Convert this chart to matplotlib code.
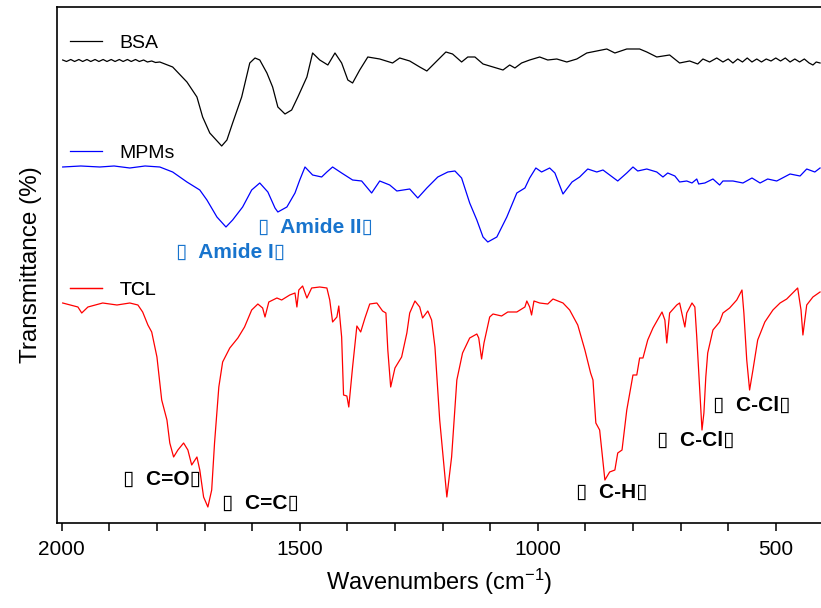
import matplotlib
matplotlib.use("Agg")
import matplotlib.pyplot as plt
from matplotlib.lines import Line2D

plt.rcParams['font.family'] = ['Liberation Sans', 'DejaVu Sans']
plt.rcParams['mathtext.default'] = 'regular'

# FTIR spectra (wavenumber in cm-1, stacked transmittance in a.u.)
bsa_wn = [1998, 1990, 1981, 1973, 1964, 1956, 1947, 1939, 1930, 1922, 1913, 1905, 1896,
          1888, 1879, 1871, 1862, 1854, 1845, 1837, 1828, 1820, 1811, 1803, 1794, 1767, 1737,
          1716, 1704, 1689, 1664, 1653, 1641, 1622, 1605, 1594, 1584, 1569, 1557, 1546,
          1531, 1517, 1504, 1485, 1473, 1458, 1441, 1426, 1412, 1399, 1389, 1374, 1357,
          1332, 1305, 1290, 1269, 1248, 1233, 1212, 1193, 1179, 1160, 1147, 1132, 1115,
          1094, 1073, 1059, 1048, 1034, 1017, 996, 979, 960, 939, 918, 897, 876, 855, 838,
          813, 786, 771, 750, 723, 702, 681, 664, 653, 639, 624, 611, 600, 590, 580, 570,
          560, 550, 540, 530, 520, 510, 500, 490, 480, 470, 460, 450, 440, 430, 422, 415, 407]
bsa_t = [463, 461.5, 463.5, 461.5, 463.5, 461.5, 463.5, 461.5, 463.5, 461.5, 463.5, 461.5, 463.5,
         461.5, 463.5, 461.5, 463.5, 461.5, 463.5, 461.5, 463, 461, 462, 460.5, 461, 456, 441,
         426, 406, 390, 377, 383, 400, 426, 460, 465, 463, 450, 436, 416,
         409, 413, 426, 446, 470, 463, 458, 470, 460, 443, 440, 453, 466,
         464, 460, 465, 462, 456, 452, 462, 471, 469, 461, 466, 466, 459,
         456, 453, 458, 455, 460, 463, 466, 463, 464, 461, 464, 470, 472, 474, 470,
         474, 474, 471, 466, 468, 460, 462, 459, 464, 461, 465, 461, 464, 460, 464, 461,
         465, 461, 464, 461, 464, 462, 465, 462, 465, 461, 464, 461, 464, 460, 458, 461, 460]

mpm_wn = [1998, 1960, 1920, 1890, 1857, 1825, 1794, 1767, 1737, 1710, 1695, 1674, 1655,
          1641, 1620, 1601, 1584, 1567, 1552, 1546, 1527, 1510, 1500, 1489, 1473, 1454,
          1443, 1431, 1412, 1389, 1370, 1349, 1332, 1311, 1296, 1269, 1252, 1233, 1210,
          1189, 1174, 1160, 1143, 1128, 1115, 1105, 1086, 1065, 1044, 1027, 1017, 1004,
          992, 975, 964, 947, 928, 912, 895, 876, 863, 832, 813, 800, 790, 771, 750, 737,
          727, 712, 702, 687, 676, 666, 662, 649, 632, 618, 611, 590, 569, 550, 533, 517,
          498, 470, 449, 435, 418, 407]
mpm_t = [356, 357, 356, 357, 355, 357, 356, 351, 341, 333, 323, 306, 296,
         303, 316, 333, 340, 331, 315, 311, 316, 330, 343, 356, 348, 346,
         351, 356, 350, 343, 342, 330, 342, 338, 332, 334, 325, 335, 346,
         351, 352, 345, 320, 303, 286, 281, 286, 306, 330, 335, 345, 355,
         351, 355, 350, 329, 341, 346, 354, 351, 353, 342, 350, 356, 352, 354, 351, 346,
         350, 347, 341, 342, 340, 344, 339, 340, 344, 338, 342, 342, 340, 345, 340, 344,
         342, 349, 347, 354, 351, 355]

tcl_wn = [1998, 1966, 1958, 1945, 1914, 1884, 1857, 1840, 1830, 1819, 1811, 1800, 1790,
          1779, 1773, 1765, 1756, 1744, 1735, 1727, 1716, 1710, 1702, 1693, 1685, 1679,
          1670, 1662, 1647, 1630, 1616, 1601, 1588, 1578, 1573, 1565, 1548, 1538, 1521,
          1510, 1506, 1502, 1494, 1485, 1475, 1458, 1443, 1437, 1431, 1422, 1418, 1412,
          1408, 1401, 1397, 1389, 1380, 1372, 1363, 1353, 1338, 1326, 1319, 1315, 1309,
          1300, 1286, 1275, 1269, 1258, 1248, 1242, 1231, 1223, 1216, 1206, 1191, 1181,
          1170, 1158, 1143, 1128, 1124, 1118, 1113, 1101, 1094, 1076, 1063, 1044, 1027,
          1023, 1017, 1013, 1008, 996, 979, 968, 947, 933, 916, 901, 889, 884, 878, 870,
          859, 849, 838, 832, 823, 813, 800, 792, 786, 779, 769, 758, 739, 733, 729, 723,
          708, 702, 691, 687, 676, 670, 666, 660, 655, 651, 647, 643, 632, 618, 611, 597,
          582, 571, 567, 561, 555, 548, 538, 523, 506, 491, 477, 454, 447, 443, 435, 422, 407]
tcl_t = [220, 216, 210, 216, 220, 218, 220, 218, 211, 198, 191, 166, 123,
         103, 80, 66, 73, 80, 73, 58, 66, 53, 26, 16, 33, 80,
         136, 161, 175, 185, 196, 213, 219, 215, 206, 221, 225, 223, 228,
         230, 216, 233, 237, 225, 235, 236, 235, 223, 201, 206, 217, 186,
         128, 127, 116, 156, 197, 191, 205, 219, 220, 212, 210, 173, 136,
         155, 166, 190, 210, 222, 216, 205, 212, 203, 176, 103, 26, 66,
         143, 170, 185, 189, 185, 164, 180, 206, 209, 207, 211, 211, 216,
         222, 216, 208, 222, 220, 219, 224, 220, 213, 198, 173, 150, 143, 100, 93,
         43, 51, 53, 70, 73, 113, 148, 148, 165, 165, 183, 195, 211, 203, 180, 210,
         218, 220, 196, 210, 220, 216, 186, 136, 93, 110, 146, 170, 193, 201, 210, 215,
         223, 233, 210, 163, 133, 153, 183, 201, 213, 220, 224, 235, 213, 188, 218, 226, 231]

series_names = ["BSA", "MPMs", "TCL"]
series_colors = ["black", "blue", "red"]

# band assignments: label, wavenumber of left edge, height, colour
band_labels = ["\u25af  Amide II\u25af", "\u25af  Amide I\u25af", "\u25af  C=O\u25af",
               "\u25af  C=C\u25af", "\u25af  C-H\u25af", "\u25af  C-Cl\u25af", "\u25af  C-Cl\u25af"]
band_wn = [1588, 1760, 1872, 1664, 920, 750, 632]
band_t = [296, 271, 44, 20, 31, 83, 118]
band_colors = ["#1874CD", "#1874CD", "black", "black", "black", "black", "black"]

fig = plt.figure(figsize=(8.21, 6.08), dpi=100)
ax = fig.add_axes([0.0694, 0.1398, 0.9306, 0.8487])

lines = []
for wn, t, c in zip([bsa_wn, mpm_wn, tcl_wn], [bsa_t, mpm_t, tcl_t], series_colors):
    ln, = ax.plot(wn, t, color=c, linewidth=0.9)
    lines.append(ln)

# one legend entry next to each curve
legend_y = [0.930, 0.717, 0.452]
for ln, name, y in zip(lines, series_names, legend_y):
    leg = ax.legend(handles=[Line2D([], [], color=ln.get_color(), linewidth=0.9)], labels=[name],
                    loc="center left", bbox_to_anchor=(0.017, y), frameon=False, fontsize=14,
                    handlelength=1.65, handletextpad=0.9, borderpad=0, borderaxespad=0)
    ax.add_artist(leg)

for lab, x, y, c in zip(band_labels, band_wn, band_t, band_colors):
    ax.text(x, y, lab, color=c, fontsize=15, fontweight="bold", ha="left", va="center")

ax.set_xlim(2010, 405)
ax.set_ylim(0, 516)
ax.set_xticks([2000, 1500, 1000, 500])
ax.set_xticks(range(1900, 400, -100), minor=True)
ax.tick_params(axis="x", which="major", direction="out", length=6, width=1.1, labelsize=15, pad=6)
ax.tick_params(axis="x", which="minor", direction="out", length=6, width=1.1)
ax.set_yticks([])
for s in ["left", "top", "bottom"]:
    ax.spines[s].set_linewidth(1.2)
ax.spines["right"].set_visible(False)

ax.set_xlabel("Wavenumbers (cm$^{-1}$)", fontsize=17, labelpad=6)
ax.set_ylabel("Transmittance (%)", fontsize=17.5, labelpad=11)

fig.savefig("out.png", dpi=100)
